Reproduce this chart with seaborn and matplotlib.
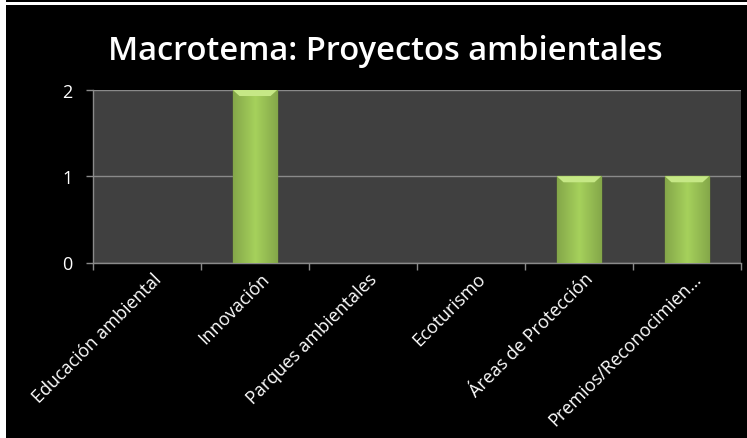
import matplotlib
matplotlib.use("Agg")
import matplotlib.pyplot as plt
from matplotlib.patches import Rectangle, Polygon
import matplotlib.transforms as mtransforms
import seaborn as sns
import pandas as pd
import numpy as np

categories = ["Educación ambiental", "Innovación", "Parques ambientales",
              "Ecoturismo", "Áreas de Protección", "Premios/Reconocimien…"]
values = [0, 2, 0, 0, 1, 1]
y_ticks = [0, 1, 2]
title = "Macrotema: Proyectos ambientales"

sns.set_theme(style="dark")
plt.rcParams['font.family'] = ['Open Sans', 'DejaVu Sans']

df = pd.DataFrame({"cat": categories, "val": values})

fig = plt.figure(figsize=(7.47, 4.39), dpi=100, facecolor="black")
W, H = 747, 439
fig.patches.append(Rectangle((0, 0), 6 / W, 1, transform=fig.transFigure,
                             facecolor="white", edgecolor="none", zorder=-1))
fig.patches.append(Rectangle((0, 1 - 6 / H), 1, 3.5 / H, transform=fig.transFigure,
                             facecolor="white", edgecolor="none", zorder=-1))

ax = fig.add_axes([93 / W, 1 - 263.5 / H, (741 - 93) / W, (263.5 - 91) / H])
ax.set_facecolor("#404040")

sns.barplot(data=df, x="cat", y="val", ax=ax, color="#9BC850", width=0.41,
            edgecolor="#6E8F2E", linewidth=1.0, saturation=1, zorder=3)

# gradient shading on bars
grad = np.linspace(0, 1, 64)
shade = 1 - 0.2 * np.abs(grad - 0.5) * 2
for p in list(ax.patches):
    x0, y0 = p.get_x(), p.get_y()
    w, h = p.get_width(), p.get_height()
    if h <= 0:
        p.set_visible(False)
        continue
    img = np.zeros((2, 64, 3))
    base = np.array([0.65, 0.82, 0.36])
    for i in range(64):
        img[:, i, :] = base * shade[i]
    im = ax.imshow(img, extent=[x0, x0 + w, y0, y0 + h], aspect="auto",
                   zorder=3.5, interpolation="bilinear")
    im.set_clip_path(p)
    cap = 0.07
    ax.add_patch(Polygon([(x0, y0 + h), (x0 + w, y0 + h),
                          (x0 + w * 0.85, y0 + h - cap), (x0 + w * 0.15, y0 + h - cap)],
                         closed=True, facecolor="#C6E886", edgecolor="none", zorder=3.6))

ax.set_xlim(-0.5, len(categories) - 0.5)
ax.set_ylim(0, 2)
ax.set_yticks(y_ticks)
ax.set_yticklabels([str(t) for t in y_ticks], color="white", fontsize=13)
ax.set_xticks(range(len(categories)))
ax.set_xticklabels(categories, rotation=45, ha="right", va="top",
                   rotation_mode="anchor", color="white", fontsize=13)
ax.tick_params(axis="x", length=0, pad=5)
offset = mtransforms.ScaledTranslation(5 / 100, 0, fig.dpi_scale_trans)
for lbl in ax.get_xticklabels():
    lbl.set_transform(lbl.get_transform() + offset)
ax.set_xticks(np.arange(-0.5, len(categories), 1), minor=True)
ax.tick_params(axis="x", which="minor", length=5, color="#8a8a8a", width=1, direction="out", bottom=True)
ax.tick_params(axis="y", length=5, color="#8a8a8a", width=1, direction="out", left=True, pad=10)
ax.set_xlabel("")
ax.set_ylabel("")
ax.grid(False)
ax.yaxis.grid(True, color="#8a8a8a", linewidth=1, zorder=1)
ax.set_axisbelow(True)
for s in ["left", "bottom"]:
    ax.spines[s].set_visible(True)
    ax.spines[s].set_color("#8a8a8a")
    ax.spines[s].set_linewidth(1)
for s in ["top", "right"]:
    ax.spines[s].set_visible(False)

fig.text(385.5 / W, 1 - 52 / H, title, ha="center", va="center", color="white",
         fontsize=23.5, fontweight="semibold", family=["Open Sans", "DejaVu Sans"])

fig.savefig("out.png", dpi=100, facecolor="black")
